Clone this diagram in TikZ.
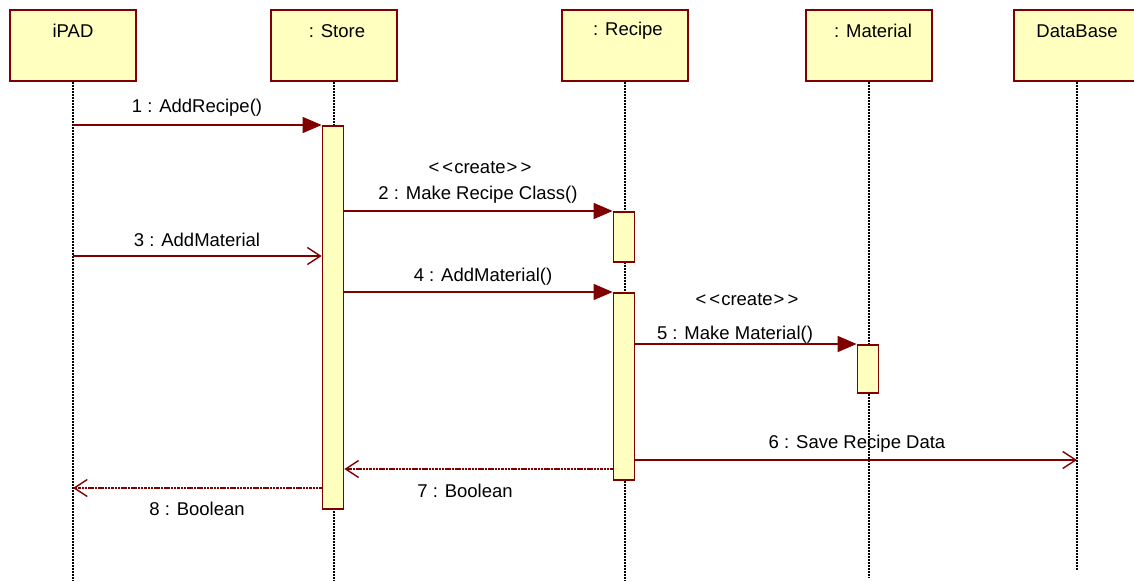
\documentclass[tikz,border=0pt]{standalone}
\usepackage{fontspec}
\setmainfont{Liberation Sans}
\usetikzlibrary{arrows.meta,calc}
\definecolor{umlred}{RGB}{128,0,0}
\definecolor{umlfill}{RGB}{255,255,192}
\begin{document}
\begin{tikzpicture}[x=1pt,y=-1pt,font=\fontsize{18.5}{22}\selectfont,
  obj/.style={draw=umlred,fill=umlfill,line width=1.8pt,minimum width=126pt,minimum height=71pt,inner sep=0pt,anchor=north},
  objtxt/.style={inner sep=0pt,anchor=center},
  actbar/.style={draw=umlred,fill=umlfill,line width=1.7pt,minimum width=21pt,inner sep=0pt,anchor=north},
  life/.style={black,line width=1.2pt,dash pattern=on 2pt off 1pt},
  call/.style={umlred,line width=1.4pt,-{Triangle[length=19pt,width=16pt]}},
  async/.style={umlred,line width=1.4pt,-{Straight Barb[length=13pt,width=17pt,line width=1.4pt]}},
  reply/.style={async,dash pattern=on 2.5pt off 0.8pt},
  msg/.style={inner sep=0pt,anchor=center}]
\useasboundingbox (0,0) rectangle (1134,581);
\clip (0,0) rectangle (1134,581);

% lifeline heads
\node[obj] (ipad) at (73,9) {};
\node[obj] (store) at (334,9) {};
\node[obj] (recipe) at (625,9) {};
\node[obj] (material) at (869,9) {};
\node[obj] (db) at (1077,9) {};
\node[objtxt] (ipadT) at (73,31) {iPAD};
\node[objtxt] (storeT) at (337,31) {: Store};
\node[objtxt] (recipeT) at (628,31) {: Recipe};
\node[objtxt] (materialT) at (873,31) {: Material};
\node[objtxt] (dbT) at (1077,31) {DataBase};

% lifeline ends
\coordinate (ipadE) at (73,581);
\coordinate (storeE) at (334,581);
\coordinate (recipeE) at (625,581);
\coordinate (materialE) at (869,577);
\coordinate (dbE) at (1077,570);

\draw[life] (ipad.south) -- (ipadE);
\draw[life] (store.south) -- (storeE);
\draw[life] (recipe.south) -- (recipeE);
\draw[life] (material.south) -- (materialE);
\draw[life] (db.south) -- (dbE);

% activation bars
\node[actbar,minimum height=383pt] (sact) at (333,125) {};
\node[actbar,minimum height=50pt] (ract1) at (624,211) {};
\node[actbar,minimum height=187pt] (ract2) at (624,292) {};
\node[actbar,minimum height=48pt] (mact) at (868,344) {};

% anchor points on lifelines
\coordinate (m1s) at (ipad.south |- sact.north);
\coordinate (m3s) at (73,256);
\coordinate (m3e) at (sact.west |- m3s);
\coordinate (m2s) at (sact.east |- ract1.north);
\coordinate (m4s) at (sact.east |- ract2.north);
\coordinate (m5s) at (ract2.east |- mact.north);
\coordinate (m6s) at (635,460);
\coordinate (m6e) at (db.south |- m6s);
\coordinate (m7s) at (ract2.west |- 0,469);
\coordinate (m7e) at (sact.east |- m7s);
\coordinate (m8s) at (sact.west |- 0,488);
\coordinate (m8e) at (ipad.south |- m8s);

% messages
\draw[call] (m1s) -- (sact.north west);
\node[msg] (l1) at (197,108) {1 : AddRecipe()};

\node[msg] (c2) at (480,168) {<\kern3pt<\kern1pt create\kern1pt>\kern3pt>};
\node[msg] (l2) at (478,195) {2 : Make Recipe Class()};
\draw[call] (m2s) -- (ract1.north west);

\node[msg] (l3) at (197,240) {3 : AddMaterial};
\draw[async] (m3s) -- (m3e);

\node[msg] (l4) at (483,277) {4 : AddMaterial()};
\draw[call] (m4s) -- (ract2.north west);

\node[msg] (c5) at (747,300) {<\kern3pt<\kern1pt create\kern1pt>\kern3pt>};
\node[msg] (l5) at (735,335) {5 : Make Material()};
\draw[call] (m5s) -- (mact.north west);

\node[msg] (l6) at (857,444) {6 : Save Recipe Data};
\draw[async] (m6s) -- (m6e);

\draw[reply] (m7s) -- (m7e);
\node[msg] (l7) at (465,491) {7 : Boolean};

\draw[reply] (m8s) -- (m8e);
\node[msg] (l8) at (197,509) {8 : Boolean};
\end{tikzpicture}
\end{document}
